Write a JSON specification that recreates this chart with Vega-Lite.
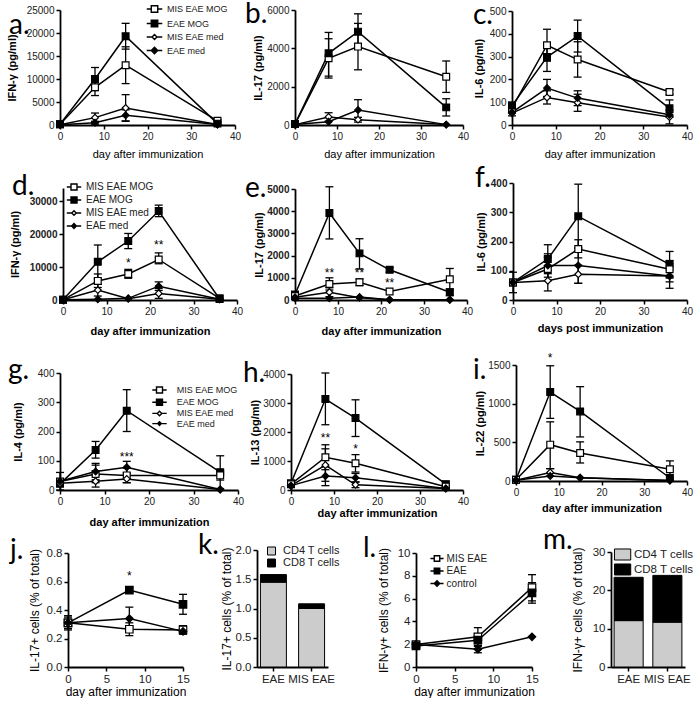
{
"$schema":"https://vega.github.io/schema/vega-lite/v6.json",
"padding":0,
"background":"white",
"config":{
 "view":{"stroke":null},
 "axis":{"domainColor":"black","domainWidth":1.8,"tickColor":"black","tickWidth":1.5,"tickSize":4,"labelColor":"#222","labelFont":"Liberation Sans","labelFontSize":10,"titleColor":"black","titleFont":"Liberation Sans","titleFontSize":11,"titleFontWeight":"bold","grid":false,"labelOverlap":false,"labelFlush":false,"labelPadding":2},
 "legend":{"labelFont":"Liberation Sans","labelColor":"#222","padding":0,"symbolStrokeColor":"black"},
 "title":{"font":"Lato","fontSize":28,"fontWeight":"normal","anchor":"start","frame":"group","offset":0,"baseline":"alphabetic","color":"black"}
},
"datasets":{
 "a":[
  {"day":0,"group":"MIS EAE MOG","mean":150,"lo":150,"hi":150},
  {"day":8,"group":"MIS EAE MOG","mean":8200,"lo":6400,"hi":10000},
  {"day":15,"group":"MIS EAE MOG","mean":13000,"lo":9000,"hi":17000},
  {"day":36,"group":"MIS EAE MOG","mean":900,"lo":600,"hi":1200},
  {"day":0,"group":"EAE MOG","mean":150,"lo":150,"hi":150},
  {"day":8,"group":"EAE MOG","mean":10000,"lo":7500,"hi":12500},
  {"day":15,"group":"EAE MOG","mean":19300,"lo":16500,"hi":22100},
  {"day":36,"group":"EAE MOG","mean":300,"lo":300,"hi":300},
  {"day":0,"group":"MIS EAE med","mean":50,"lo":50,"hi":50},
  {"day":8,"group":"MIS EAE med","mean":1600,"lo":600,"hi":2600},
  {"day":15,"group":"MIS EAE med","mean":3700,"lo":800,"hi":6600},
  {"day":36,"group":"MIS EAE med","mean":100,"lo":100,"hi":100},
  {"day":0,"group":"EAE med","mean":50,"lo":50,"hi":50},
  {"day":8,"group":"EAE med","mean":500,"lo":200,"hi":800},
  {"day":15,"group":"EAE med","mean":2100,"lo":900,"hi":3300},
  {"day":36,"group":"EAE med","mean":100,"lo":100,"hi":100}
 ],
 "b":[
  {"day":0,"group":"MIS EAE MOG","mean":50,"lo":50,"hi":50},
  {"day":8,"group":"MIS EAE MOG","mean":3480,"lo":2450,"hi":4500},
  {"day":15,"group":"MIS EAE MOG","mean":4090,"lo":2880,"hi":5300},
  {"day":36,"group":"MIS EAE MOG","mean":2520,"lo":1700,"hi":3340},
  {"day":0,"group":"EAE MOG","mean":50,"lo":50,"hi":50},
  {"day":8,"group":"EAE MOG","mean":3740,"lo":2550,"hi":4830},
  {"day":15,"group":"EAE MOG","mean":4870,"lo":3950,"hi":5800},
  {"day":36,"group":"EAE MOG","mean":920,"lo":470,"hi":1370},
  {"day":0,"group":"MIS EAE med","mean":20,"lo":20,"hi":20},
  {"day":8,"group":"MIS EAE med","mean":420,"lo":200,"hi":640},
  {"day":15,"group":"MIS EAE med","mean":280,"lo":150,"hi":400},
  {"day":36,"group":"MIS EAE med","mean":20,"lo":20,"hi":20},
  {"day":0,"group":"EAE med","mean":20,"lo":20,"hi":20},
  {"day":8,"group":"EAE med","mean":170,"lo":170,"hi":170},
  {"day":15,"group":"EAE med","mean":780,"lo":250,"hi":1320},
  {"day":36,"group":"EAE med","mean":20,"lo":20,"hi":20}
 ],
 "c":[
  {"day":0,"group":"MIS EAE MOG","mean":75,"lo":60,"hi":90},
  {"day":8,"group":"MIS EAE MOG","mean":350,"lo":280,"hi":420},
  {"day":15,"group":"MIS EAE MOG","mean":287,"lo":210,"hi":365},
  {"day":36,"group":"MIS EAE MOG","mean":145,"lo":135,"hi":155},
  {"day":0,"group":"EAE MOG","mean":85,"lo":70,"hi":100},
  {"day":8,"group":"EAE MOG","mean":298,"lo":235,"hi":360},
  {"day":15,"group":"EAE MOG","mean":390,"lo":320,"hi":460},
  {"day":36,"group":"EAE MOG","mean":73,"lo":40,"hi":110},
  {"day":0,"group":"MIS EAE med","mean":52,"lo":40,"hi":65},
  {"day":8,"group":"MIS EAE med","mean":121,"lo":92,"hi":150},
  {"day":15,"group":"MIS EAE med","mean":98,"lo":60,"hi":135},
  {"day":36,"group":"MIS EAE med","mean":35,"lo":5,"hi":65},
  {"day":0,"group":"EAE med","mean":55,"lo":55,"hi":55},
  {"day":8,"group":"EAE med","mean":162,"lo":125,"hi":200},
  {"day":15,"group":"EAE med","mean":118,"lo":85,"hi":150},
  {"day":36,"group":"EAE med","mean":45,"lo":35,"hi":55}
 ],
 "d":[
  {"day":0,"group":"MIS EAE MOG","mean":100,"lo":100,"hi":100},
  {"day":8,"group":"MIS EAE MOG","mean":5800,"lo":3800,"hi":7900},
  {"day":15,"group":"MIS EAE MOG","mean":7900,"lo":6600,"hi":9300},
  {"day":22,"group":"MIS EAE MOG","mean":12300,"lo":11000,"hi":14300},
  {"day":36,"group":"MIS EAE MOG","mean":500,"lo":500,"hi":500},
  {"day":0,"group":"EAE MOG","mean":100,"lo":100,"hi":100},
  {"day":8,"group":"EAE MOG","mean":11600,"lo":6500,"hi":16700},
  {"day":15,"group":"EAE MOG","mean":17900,"lo":15600,"hi":20200},
  {"day":22,"group":"EAE MOG","mean":27000,"lo":25300,"hi":28800},
  {"day":36,"group":"EAE MOG","mean":300,"lo":300,"hi":300},
  {"day":0,"group":"MIS EAE med","mean":50,"lo":50,"hi":50},
  {"day":8,"group":"MIS EAE med","mean":3000,"lo":1200,"hi":4800},
  {"day":15,"group":"MIS EAE med","mean":400,"lo":400,"hi":400},
  {"day":22,"group":"MIS EAE med","mean":2000,"lo":500,"hi":3500},
  {"day":36,"group":"MIS EAE med","mean":200,"lo":200,"hi":200},
  {"day":0,"group":"EAE med","mean":50,"lo":50,"hi":50},
  {"day":8,"group":"EAE med","mean":200,"lo":200,"hi":200},
  {"day":15,"group":"EAE med","mean":500,"lo":500,"hi":500},
  {"day":22,"group":"EAE med","mean":4200,"lo":2900,"hi":5500},
  {"day":36,"group":"EAE med","mean":200,"lo":200,"hi":200}
 ],
 "dS":[{"day":15,"val":11100,"star":"*"},{"day":22,"val":16700,"star":"**"}],
 "e":[
  {"day":0,"group":"EAE MOG","mean":250,"lo":250,"hi":250},
  {"day":8,"group":"EAE MOG","mean":3920,"lo":2750,"hi":5100},
  {"day":15,"group":"EAE MOG","mean":2100,"lo":1400,"hi":2760},
  {"day":22,"group":"EAE MOG","mean":1360,"lo":1250,"hi":1450},
  {"day":36,"group":"EAE MOG","mean":350,"lo":200,"hi":500},
  {"day":0,"group":"MIS EAE MOG","mean":180,"lo":180,"hi":180},
  {"day":8,"group":"MIS EAE MOG","mean":720,"lo":450,"hi":1000},
  {"day":15,"group":"MIS EAE MOG","mean":800,"lo":650,"hi":950},
  {"day":22,"group":"MIS EAE MOG","mean":380,"lo":380,"hi":380},
  {"day":36,"group":"MIS EAE MOG","mean":930,"lo":450,"hi":1420},
  {"day":0,"group":"MIS EAE med","mean":120,"lo":120,"hi":120},
  {"day":8,"group":"MIS EAE med","mean":350,"lo":150,"hi":550},
  {"day":15,"group":"MIS EAE med","mean":100,"lo":100,"hi":100},
  {"day":22,"group":"MIS EAE med","mean":10,"lo":10,"hi":10},
  {"day":36,"group":"MIS EAE med","mean":10,"lo":10,"hi":10},
  {"day":0,"group":"EAE med","mean":80,"lo":80,"hi":80},
  {"day":8,"group":"EAE med","mean":75,"lo":75,"hi":75},
  {"day":15,"group":"EAE med","mean":130,"lo":130,"hi":130},
  {"day":22,"group":"EAE med","mean":10,"lo":10,"hi":10},
  {"day":36,"group":"EAE med","mean":10,"lo":10,"hi":10}
 ],
 "eS":[{"day":8,"val":1200,"star":"**"},{"day":15,"val":1200,"star":"**"},{"day":22,"val":750,"star":"**"}],
 "f":[
  {"day":0,"group":"EAE MOG","mean":60,"lo":60,"hi":60},
  {"day":8,"group":"EAE MOG","mean":140,"lo":90,"hi":189},
  {"day":15,"group":"EAE MOG","mean":286,"lo":176,"hi":396},
  {"day":36,"group":"EAE MOG","mean":122,"lo":78,"hi":166},
  {"day":0,"group":"MIS EAE MOG","mean":60,"lo":60,"hi":60},
  {"day":8,"group":"MIS EAE MOG","mean":106,"lo":66,"hi":146},
  {"day":15,"group":"MIS EAE MOG","mean":174,"lo":144,"hi":206},
  {"day":36,"group":"MIS EAE MOG","mean":105,"lo":75,"hi":135},
  {"day":0,"group":"MIS EAE med","mean":60,"lo":60,"hi":60},
  {"day":8,"group":"MIS EAE med","mean":66,"lo":31,"hi":101},
  {"day":15,"group":"MIS EAE med","mean":88,"lo":57,"hi":119},
  {"day":36,"group":"MIS EAE med","mean":82,"lo":62,"hi":102},
  {"day":0,"group":"EAE med","mean":60,"lo":25,"hi":95},
  {"day":8,"group":"EAE med","mean":118,"lo":78,"hi":158},
  {"day":15,"group":"EAE med","mean":118,"lo":57,"hi":179},
  {"day":36,"group":"EAE med","mean":82,"lo":40,"hi":124}
 ],
 "g":[
  {"day":0,"group":"EAE MOG","mean":21,"lo":21,"hi":21},
  {"day":8,"group":"EAE MOG","mean":137,"lo":109,"hi":166},
  {"day":15,"group":"EAE MOG","mean":271,"lo":200,"hi":343},
  {"day":36,"group":"EAE MOG","mean":61,"lo":5,"hi":117},
  {"day":0,"group":"MIS EAE MOG","mean":29,"lo":29,"hi":29},
  {"day":8,"group":"MIS EAE MOG","mean":55,"lo":25,"hi":85},
  {"day":15,"group":"MIS EAE MOG","mean":50,"lo":25,"hi":75},
  {"day":36,"group":"MIS EAE MOG","mean":50,"lo":34,"hi":66},
  {"day":0,"group":"MIS EAE med","mean":23,"lo":23,"hi":23},
  {"day":8,"group":"MIS EAE med","mean":30,"lo":10,"hi":50},
  {"day":15,"group":"MIS EAE med","mean":38,"lo":25,"hi":50},
  {"day":36,"group":"MIS EAE med","mean":2,"lo":2,"hi":2},
  {"day":0,"group":"EAE med","mean":30,"lo":0,"hi":60},
  {"day":8,"group":"EAE med","mean":63,"lo":35,"hi":91},
  {"day":15,"group":"EAE med","mean":78,"lo":58,"hi":98},
  {"day":36,"group":"EAE med","mean":2,"lo":2,"hi":2}
 ],
 "gS":[{"day":15,"val":114,"star":"***"}],
 "h":[
  {"day":0,"group":"EAE MOG","mean":230,"lo":230,"hi":230},
  {"day":8,"group":"EAE MOG","mean":3135,"lo":2250,"hi":4035},
  {"day":15,"group":"EAE MOG","mean":2480,"lo":1845,"hi":3110},
  {"day":36,"group":"EAE MOG","mean":200,"lo":100,"hi":300},
  {"day":0,"group":"MIS EAE MOG","mean":200,"lo":200,"hi":200},
  {"day":8,"group":"MIS EAE MOG","mean":1130,"lo":700,"hi":1560},
  {"day":15,"group":"MIS EAE MOG","mean":920,"lo":620,"hi":1220},
  {"day":36,"group":"MIS EAE MOG","mean":115,"lo":115,"hi":115},
  {"day":0,"group":"MIS EAE med","mean":150,"lo":150,"hi":150},
  {"day":8,"group":"MIS EAE med","mean":860,"lo":300,"hi":1420},
  {"day":15,"group":"MIS EAE med","mean":180,"lo":80,"hi":280},
  {"day":36,"group":"MIS EAE med","mean":50,"lo":50,"hi":50},
  {"day":0,"group":"EAE med","mean":150,"lo":150,"hi":150},
  {"day":8,"group":"EAE med","mean":480,"lo":150,"hi":800},
  {"day":15,"group":"EAE med","mean":420,"lo":270,"hi":570},
  {"day":36,"group":"EAE med","mean":50,"lo":50,"hi":50}
 ],
 "hS":[{"day":8,"val":1790,"star":"**"},{"day":15,"val":1410,"star":"*"}],
 "i":[
  {"day":0,"group":"EAE MOG","mean":17,"lo":17,"hi":17},
  {"day":8,"group":"EAE MOG","mean":1150,"lo":810,"hi":1490},
  {"day":15,"group":"EAE MOG","mean":900,"lo":570,"hi":1220},
  {"day":36,"group":"EAE MOG","mean":39,"lo":39,"hi":39},
  {"day":0,"group":"MIS EAE MOG","mean":17,"lo":17,"hi":17},
  {"day":8,"group":"MIS EAE MOG","mean":470,"lo":160,"hi":765},
  {"day":15,"group":"MIS EAE MOG","mean":363,"lo":233,"hi":506},
  {"day":36,"group":"MIS EAE MOG","mean":151,"lo":40,"hi":260},
  {"day":0,"group":"MIS EAE med","mean":10,"lo":10,"hi":10},
  {"day":8,"group":"MIS EAE med","mean":110,"lo":60,"hi":160},
  {"day":15,"group":"MIS EAE med","mean":43,"lo":43,"hi":43},
  {"day":36,"group":"MIS EAE med","mean":5,"lo":5,"hi":5},
  {"day":0,"group":"EAE med","mean":10,"lo":10,"hi":10},
  {"day":8,"group":"EAE med","mean":65,"lo":65,"hi":65},
  {"day":15,"group":"EAE med","mean":43,"lo":43,"hi":43},
  {"day":36,"group":"EAE med","mean":5,"lo":5,"hi":5}
 ],
 "iS":[{"day":8,"val":1590,"star":"*"}],
 "j":[
  {"day":0,"group":"EAE","mean":0.31,"lo":0.27,"hi":0.35},
  {"day":8,"group":"EAE","mean":0.54,"lo":0.52,"hi":0.56},
  {"day":15,"group":"EAE","mean":0.44,"lo":0.37,"hi":0.51},
  {"day":0,"group":"MIS EAE","mean":0.31,"lo":0.26,"hi":0.36},
  {"day":8,"group":"MIS EAE","mean":0.265,"lo":0.22,"hi":0.31},
  {"day":15,"group":"MIS EAE","mean":0.26,"lo":0.23,"hi":0.29},
  {"day":0,"group":"control","mean":0.31,"lo":0.31,"hi":0.31},
  {"day":8,"group":"control","mean":0.34,"lo":0.28,"hi":0.42},
  {"day":15,"group":"control","mean":0.25,"lo":0.25,"hi":0.25}
 ],
 "jS":[{"day":8,"val":0.64,"star":"*"}],
 "k":[
  {"cond":"EAE","cell":"CD4 T cells","val":1.45},
  {"cond":"EAE","cell":"CD8 T cells","val":0.13},
  {"cond":"MIS EAE","cell":"CD4 T cells","val":1.0},
  {"cond":"MIS EAE","cell":"CD8 T cells","val":0.08}
 ],
 "l":[
  {"day":0,"group":"MIS EAE","mean":1.97,"lo":1.8,"hi":2.15},
  {"day":8,"group":"MIS EAE","mean":2.65,"lo":1.9,"hi":3.45},
  {"day":15,"group":"MIS EAE","mean":6.97,"lo":5.8,"hi":8.1},
  {"day":0,"group":"EAE","mean":1.85,"lo":1.6,"hi":2.1},
  {"day":8,"group":"EAE","mean":2.35,"lo":1.8,"hi":2.9},
  {"day":15,"group":"EAE","mean":6.5,"lo":5.6,"hi":7.4},
  {"day":0,"group":"control","mean":1.97,"lo":1.97,"hi":1.97},
  {"day":8,"group":"control","mean":1.56,"lo":1.25,"hi":1.87},
  {"day":15,"group":"control","mean":2.65,"lo":2.65,"hi":2.65}
 ],
 "m":[
  {"cond":"EAE","cell":"CD4 T cells","val":12.1},
  {"cond":"EAE","cell":"CD8 T cells","val":11.3},
  {"cond":"MIS EAE","cell":"CD4 T cells","val":11.7},
  {"cond":"MIS EAE","cell":"CD8 T cells","val":12.2}
 ]
},
"spacing":0,
"bounds":"flush",
"resolve":{"scale":{"fill":"independent","stroke":"independent","shape":"independent","size":"independent"}},
"hconcat":[
 {"width":60,"height":1,"data":{"values":[]},"mark":"point"},
 {"spacing":0,"bounds":"flush","resolve":{"scale":{"fill":"independent","stroke":"independent","shape":"independent","size":"independent"}},"vconcat":[
  {"width":1,"height":10,"data":{"values":[]},"mark":"point"},
  {"width":175,"height":115,"title":{"text":"a.","dx":-51,"dy":39.5},"data":{"name":"a"},
   "encoding":{"x":{"field":"day","type":"quantitative","scale":{"domain":[0,40],"nice":false},"axis":{"title":"day after immunization","values":[0,10,20,30,40],"tickCount":20,"titleFontWeight":"normal","titlePadding":7}}},
   "layer":[
    {"transform":[{"filter":"datum.hi > datum.lo"}],"mark":{"type":"rule","color":"black","strokeWidth":1.3},"encoding":{"y":{"field":"lo","type":"quantitative","scale":{"domain":[0,25000],"nice":false},"axis":{"title":"IFN-γ (pg/ml)","values":[0,5000,10000,15000,20000,25000],"tickCount":20,"format":"d","titlePadding":9}},"y2":{"field":"hi"},"detail":{"field":"group"}}},
    {"transform":[{"filter":"datum.hi > datum.lo"},{"fold":["lo","hi"],"as":["end","v"]}],"mark":{"type":"tick","orient":"horizontal","color":"black","size":8,"thickness":1.3,"opacity":1},"encoding":{"y":{"field":"v","type":"quantitative"}}},
    {"mark":{"type":"line","color":"black","strokeWidth":1.5},"encoding":{"y":{"field":"mean","type":"quantitative"},"detail":{"field":"group"}}},
    {"mark":{"type":"point","filled":true,"stroke":"black","strokeWidth":1.2,"opacity":1},"encoding":{"y":{"field":"mean","type":"quantitative"},
      "shape":{"field":"group","type":"nominal","scale":{"domain":["MIS EAE MOG","EAE MOG","MIS EAE med","EAE med"],"range":["square","square","diamond","diamond"]},"legend":null},
      "fill":{"field":"group","type":"nominal","scale":{"domain":["MIS EAE MOG","EAE MOG","MIS EAE med","EAE med"],"range":["white","black","white","black"]},"legend":null},
      "size":{"field":"group","type":"ordinal","scale":{"domain":["MIS EAE MOG","EAE MOG","MIS EAE med","EAE med"],"range":[46,46,30,42]},"legend":null}}},
    {"transform":[{"filter":"false"}],"mark":{"type":"point","filled":true,"strokeWidth":1.4,"opacity":1},"encoding":{
      "shape":{"field":"group","type":"nominal","scale":{"domain":["MIS EAE MOG","EAE MOG","MIS EAE med","EAE med"],"range":["M-2.4,0H-1M1,0H2.4M-1,-1H1V1H-1Z","M-2.4,0H-1M1,0H2.4M-1,-1H1V1H-1Z","M-2.4,0H-0.75M0.75,0H2.4M0,-0.75L0.75,0L0,0.75L-0.75,0Z","M-2.4,0H-1M1,0H2.4M0,-1L1,0L0,1L-1,0Z"]},"legend":{"orient":"none","legendX":90,"legendY":-5.5,"title":null,"symbolSize":42,"symbolStrokeWidth":1.4,"labelFontSize":9,"labelOffset":8,"rowPadding":1.5}},
      "fill":{"field":"group","type":"nominal","scale":{"domain":["MIS EAE MOG","EAE MOG","MIS EAE med","EAE med"],"range":["white","black","white","black"]},"legend":{"orient":"none","legendX":90,"legendY":-5.5,"title":null,"symbolSize":42,"symbolStrokeWidth":1.4,"labelFontSize":9,"labelOffset":8,"rowPadding":1.5}},
      "stroke":{"field":"group","type":"nominal","scale":{"domain":["MIS EAE MOG","EAE MOG","MIS EAE med","EAE med"],"range":["black","black","black","black"]},"legend":{"orient":"none","legendX":90,"legendY":-5.5,"title":null,"symbolSize":42,"symbolStrokeWidth":1.4,"labelFontSize":9,"labelOffset":8,"rowPadding":1.5}}}}
   ],
   "resolve":{"scale":{"shape":"independent","fill":"independent","size":"independent","stroke":"independent"}}}
 ]},
 {"spacing":0,"bounds":"flush","resolve":{"scale":{"fill":"independent","stroke":"independent","shape":"independent","size":"independent"}},"vconcat":[
  {"width":1,"height":373,"data":{"values":[]},"mark":"point"},
  {"width":178,"height":117,"title":{"text":"g.","dx":-52,"dy":21},"data":{"name":"g"},
   "encoding":{"x":{"field":"day","type":"quantitative","scale":{"domain":[0,40],"nice":false},"axis":{"title":"day after immunization","values":[0,10,20,30,40],"tickCount":20,"titlePadding":10}}},
   "layer":[
    {"transform":[{"filter":"datum.hi > datum.lo"}],"mark":{"type":"rule","color":"black","strokeWidth":1.3},"encoding":{"y":{"field":"lo","type":"quantitative","scale":{"domain":[0,400],"nice":false},"axis":{"title":"IL-4 (pg/ml)","values":[0,100,200,300,400],"tickCount":20,"format":"d","titlePadding":14}},"y2":{"field":"hi"},"detail":{"field":"group"}}},
    {"transform":[{"filter":"datum.hi > datum.lo"},{"fold":["lo","hi"],"as":["end","v"]}],"mark":{"type":"tick","orient":"horizontal","color":"black","size":8,"thickness":1.3,"opacity":1},"encoding":{"y":{"field":"v","type":"quantitative"}}},
    {"mark":{"type":"line","color":"black","strokeWidth":1.5},"encoding":{"y":{"field":"mean","type":"quantitative"},"detail":{"field":"group"}}},
    {"mark":{"type":"point","filled":true,"stroke":"black","strokeWidth":1.2,"opacity":1},"encoding":{"y":{"field":"mean","type":"quantitative"},
      "shape":{"field":"group","type":"nominal","scale":{"domain":["MIS EAE MOG","EAE MOG","MIS EAE med","EAE med"],"range":["square","square","diamond","diamond"]},"legend":null},
      "fill":{"field":"group","type":"nominal","scale":{"domain":["MIS EAE MOG","EAE MOG","MIS EAE med","EAE med"],"range":["white","black","white","black"]},"legend":null},
      "size":{"field":"group","type":"ordinal","scale":{"domain":["MIS EAE MOG","EAE MOG","MIS EAE med","EAE med"],"range":[46,46,30,26]},"legend":null}}},
    {"data":{"name":"gS"},"mark":{"type":"text","fontSize":12,"font":"Liberation Sans","color":"black","baseline":"middle"},"encoding":{"y":{"field":"val","type":"quantitative"},"text":{"field":"star"}}},
    {"transform":[{"filter":"false"}],"mark":{"type":"point","filled":true,"strokeWidth":1.4,"opacity":1},"encoding":{
      "shape":{"field":"group","type":"nominal","scale":{"domain":["MIS EAE MOG","EAE MOG","MIS EAE med","EAE med"],"range":["M-2.4,0H-1M1,0H2.4M-1,-1H1V1H-1Z","M-2.4,0H-1M1,0H2.4M-1,-1H1V1H-1Z","M-2.4,0H-0.75M0.75,0H2.4M0,-0.75L0.75,0L0,0.75L-0.75,0Z","M-2.4,0H-0.6M0.6,0H2.4M0,-0.6L0.6,0L0,0.6L-0.6,0Z"]},"legend":{"orient":"none","legendX":95,"legendY":12.5,"title":null,"symbolSize":36,"symbolStrokeWidth":1.4,"labelFontSize":9,"labelOffset":12.8,"rowPadding":-0.8}},
      "fill":{"field":"group","type":"nominal","scale":{"domain":["MIS EAE MOG","EAE MOG","MIS EAE med","EAE med"],"range":["white","black","white","black"]},"legend":{"orient":"none","legendX":95,"legendY":12.5,"title":null,"symbolSize":36,"symbolStrokeWidth":1.4,"labelFontSize":9,"labelOffset":12.8,"rowPadding":-0.8}},
      "stroke":{"field":"group","type":"nominal","scale":{"domain":["MIS EAE MOG","EAE MOG","MIS EAE med","EAE med"],"range":["black","black","black","black"]},"legend":{"orient":"none","legendX":95,"legendY":12.5,"title":null,"symbolSize":36,"symbolStrokeWidth":1.4,"labelFontSize":9,"labelOffset":12.8,"rowPadding":-0.8}}}}
   ],
   "resolve":{"scale":{"shape":"independent","fill":"independent","size":"independent","stroke":"independent"}}}
 ]},
 {"width":3,"height":1,"data":{"values":[]},"mark":"point"},
 {"spacing":0,"bounds":"flush","resolve":{"scale":{"fill":"independent","stroke":"independent","shape":"independent","size":"independent"}},"vconcat":[
  {"width":1,"height":188,"data":{"values":[]},"mark":"point"},
  {"width":174,"height":112,"title":{"text":"d.","dx":-51,"dy":23},"data":{"name":"d"},
   "encoding":{"x":{"field":"day","type":"quantitative","scale":{"domain":[0,40],"nice":false},"axis":{"title":"day after immunization","values":[0,10,20,30,40],"tickCount":20,"titlePadding":9}}},
   "layer":[
    {"transform":[{"filter":"datum.hi > datum.lo"}],"mark":{"type":"rule","color":"black","strokeWidth":1.3},"encoding":{"y":{"field":"lo","type":"quantitative","scale":{"domain":[0,34000],"nice":false},"axis":{"title":"IFN-γ (pg/ml)","values":[0,10000,20000,30000],"tickCount":20,"format":"d","labelFontWeight":"bold","titlePadding":9}},"y2":{"field":"hi"},"detail":{"field":"group"}}},
    {"transform":[{"filter":"datum.hi > datum.lo"},{"fold":["lo","hi"],"as":["end","v"]}],"mark":{"type":"tick","orient":"horizontal","color":"black","size":8,"thickness":1.3,"opacity":1},"encoding":{"y":{"field":"v","type":"quantitative"}}},
    {"mark":{"type":"line","color":"black","strokeWidth":1.5},"encoding":{"y":{"field":"mean","type":"quantitative"},"detail":{"field":"group"}}},
    {"mark":{"type":"point","filled":true,"stroke":"black","strokeWidth":1.2,"opacity":1},"encoding":{"y":{"field":"mean","type":"quantitative"},
      "shape":{"field":"group","type":"nominal","scale":{"domain":["MIS EAE MOG","EAE MOG","MIS EAE med","EAE med"],"range":["square","square","diamond","diamond"]},"legend":null},
      "fill":{"field":"group","type":"nominal","scale":{"domain":["MIS EAE MOG","EAE MOG","MIS EAE med","EAE med"],"range":["white","black","white","black"]},"legend":null},
      "size":{"field":"group","type":"ordinal","scale":{"domain":["MIS EAE MOG","EAE MOG","MIS EAE med","EAE med"],"range":[46,46,26,34]},"legend":null}}},
    {"data":{"name":"dS"},"mark":{"type":"text","fontSize":12,"font":"Liberation Sans","color":"black","baseline":"middle"},"encoding":{"y":{"field":"val","type":"quantitative"},"text":{"field":"star"}}},
    {"transform":[{"filter":"false"}],"mark":{"type":"point","filled":true,"strokeWidth":1.4,"opacity":1},"encoding":{
      "shape":{"field":"group","type":"nominal","scale":{"domain":["MIS EAE MOG","EAE MOG","MIS EAE med","EAE med"],"range":["M-2.4,0H-1M1,0H2.4M-1,-1H1V1H-1Z","M-2.4,0H-1M1,0H2.4M-1,-1H1V1H-1Z","M-2.4,0H-0.75M0.75,0H2.4M0,-0.75L0.75,0L0,0.75L-0.75,0Z","M-2.4,0H-0.8M0.8,0H2.4M0,-0.8L0.8,0L0,0.8L-0.8,0Z"]},"legend":{"orient":"none","legendX":6,"legendY":-6,"title":null,"symbolSize":36,"symbolStrokeWidth":1.4,"labelFontSize":10,"labelOffset":7,"rowPadding":1}},
      "fill":{"field":"group","type":"nominal","scale":{"domain":["MIS EAE MOG","EAE MOG","MIS EAE med","EAE med"],"range":["white","black","white","black"]},"legend":{"orient":"none","legendX":6,"legendY":-6,"title":null,"symbolSize":36,"symbolStrokeWidth":1.4,"labelFontSize":10,"labelOffset":7,"rowPadding":1}},
      "stroke":{"field":"group","type":"nominal","scale":{"domain":["MIS EAE MOG","EAE MOG","MIS EAE med","EAE med"],"range":["black","black","black","black"]},"legend":{"orient":"none","legendX":6,"legendY":-6,"title":null,"symbolSize":36,"symbolStrokeWidth":1.4,"labelFontSize":10,"labelOffset":7,"rowPadding":1}}}}
   ],
   "resolve":{"scale":{"shape":"independent","fill":"independent","size":"independent","stroke":"independent"}}}
 ]},
 {"width":5,"height":1,"data":{"values":[]},"mark":"point"},
 {"spacing":0,"bounds":"flush","resolve":{"scale":{"fill":"independent","stroke":"independent","shape":"independent","size":"independent"}},"vconcat":[
  {"width":1,"height":553,"data":{"values":[]},"mark":"point"},
  {"width":115,"height":114,"title":{"text":"j.","dx":-58,"dy":21.75},"data":{"name":"j"},
   "encoding":{"x":{"field":"day","type":"quantitative","scale":{"domain":[0,15],"nice":false},"axis":{"title":"day after immunization","values":[0,5,10,15],"tickCount":20,"labelFontSize":11.5,"titleFontWeight":"normal","titleFontSize":12,"titlePadding":1.5}}},
   "layer":[
    {"transform":[{"filter":"datum.hi > datum.lo"}],"mark":{"type":"rule","color":"black","strokeWidth":1.3},"encoding":{"y":{"field":"lo","type":"quantitative","scale":{"domain":[0,0.8],"nice":false},"axis":{"title":"IL-17+ cells (% of total)","values":[0,0.2,0.4,0.6,0.8],"tickCount":20,"format":".1f","labelFontSize":11.5,"titleFontWeight":"normal","titleFontSize":12,"titlePadding":5}},"y2":{"field":"hi"},"detail":{"field":"group"}}},
    {"transform":[{"filter":"datum.hi > datum.lo"},{"fold":["lo","hi"],"as":["end","v"]}],"mark":{"type":"tick","orient":"horizontal","color":"black","size":8,"thickness":1.3,"opacity":1},"encoding":{"y":{"field":"v","type":"quantitative"}}},
    {"mark":{"type":"line","color":"black","strokeWidth":1.5},"encoding":{"y":{"field":"mean","type":"quantitative"},"detail":{"field":"group"}}},
    {"mark":{"type":"point","filled":true,"stroke":"black","strokeWidth":1.2,"opacity":1},"encoding":{"y":{"field":"mean","type":"quantitative"},
      "shape":{"field":"group","type":"nominal","scale":{"domain":["MIS EAE","EAE","control"],"range":["square","square","diamond"]},"legend":null},
      "fill":{"field":"group","type":"nominal","scale":{"domain":["MIS EAE","EAE","control"],"range":["white","black","black"]},"legend":null},
      "size":{"field":"group","type":"ordinal","scale":{"domain":["MIS EAE","EAE","control"],"range":[56,56,42]},"legend":null}}},
    {"data":{"name":"jS"},"mark":{"type":"text","fontSize":12,"font":"Liberation Sans","color":"black","baseline":"middle"},"encoding":{"y":{"field":"val","type":"quantitative"},"text":{"field":"star"}}}
   ]}
 ]},
 {"width":189,"height":1,"data":{"values":[]},"mark":"point"},
 {"spacing":0,"bounds":"flush","resolve":{"scale":{"fill":"independent","stroke":"independent","shape":"independent","size":"independent"}},"vconcat":[
  {"width":1,"height":550,"data":{"values":[]},"mark":"point"},
  {"width":71,"height":117,"title":{"text":"k.","dx":-59,"dy":19.5},"data":{"name":"k"},
   "mark":{"type":"bar","strokeWidth":1},
   "encoding":{
    "x":{"field":"cond","type":"nominal","scale":{"domain":["EAE","MIS EAE"],"paddingInner":0.32,"paddingOuter":0.09},"axis":{"title":null,"labelAngle":0,"labelFontSize":11.5}},
    "y":{"field":"val","type":"quantitative","stack":"zero","scale":{"domain":[0,2],"nice":false},"axis":{"title":"IL-17+ cells (% of total)","values":[0,0.5,1,1.5,2],"tickCount":20,"format":".1f","labelFontSize":11.5,"titleFontWeight":"normal","titleFontSize":12,"titlePadding":2}},
    "order":{"field":"cell","sort":"ascending"},
    "fill":{"field":"cell","type":"nominal","scale":{"domain":["CD4 T cells","CD8 T cells"],"range":["#cccccc","black"]},"legend":{"orient":"none","legendX":9,"legendY":-4.5,"title":null,"symbolType":"square","symbolSize":64,"symbolStrokeWidth":1,"labelFontSize":11,"labelOffset":6,"rowPadding":-1}},
    "stroke":{"field":"cell","type":"nominal","scale":{"domain":["CD4 T cells","CD8 T cells"],"range":["black","black"]},"legend":{"orient":"none","legendX":9,"legendY":-4.5,"title":null,"symbolType":"square","symbolSize":64,"symbolStrokeWidth":1,"labelFontSize":11,"labelOffset":6,"rowPadding":-1}}
   }}
 ]},
 {"width":34,"height":1,"data":{"values":[]},"mark":"point"},
 {"spacing":0,"bounds":"flush","resolve":{"scale":{"fill":"independent","stroke":"independent","shape":"independent","size":"independent"}},"vconcat":[
  {"width":1,"height":374,"data":{"values":[]},"mark":"point"},
  {"width":172,"height":116,"title":{"text":"h.","dx":-48,"dy":23},"data":{"name":"h"},
   "encoding":{"x":{"field":"day","type":"quantitative","scale":{"domain":[0,40],"nice":false},"axis":{"title":"day after immunization","values":[0,10,20,30,40],"tickCount":20,"titlePadding":1.5}}},
   "layer":[
    {"transform":[{"filter":"datum.hi > datum.lo"}],"mark":{"type":"rule","color":"black","strokeWidth":1.3},"encoding":{"y":{"field":"lo","type":"quantitative","scale":{"domain":[0,4000],"nice":false},"axis":{"title":"IL-13 (pg/ml)","values":[0,1000,2000,3000,4000],"tickCount":20,"format":"d","titlePadding":2}},"y2":{"field":"hi"},"detail":{"field":"group"}}},
    {"transform":[{"filter":"datum.hi > datum.lo"},{"fold":["lo","hi"],"as":["end","v"]}],"mark":{"type":"tick","orient":"horizontal","color":"black","size":8,"thickness":1.3,"opacity":1},"encoding":{"y":{"field":"v","type":"quantitative"}}},
    {"mark":{"type":"line","color":"black","strokeWidth":1.5},"encoding":{"y":{"field":"mean","type":"quantitative"},"detail":{"field":"group"}}},
    {"mark":{"type":"point","filled":true,"stroke":"black","strokeWidth":1.2,"opacity":1},"encoding":{"y":{"field":"mean","type":"quantitative"},
      "shape":{"field":"group","type":"nominal","scale":{"domain":["MIS EAE MOG","EAE MOG","MIS EAE med","EAE med"],"range":["square","square","diamond","diamond"]},"legend":null},
      "fill":{"field":"group","type":"nominal","scale":{"domain":["MIS EAE MOG","EAE MOG","MIS EAE med","EAE med"],"range":["white","black","white","black"]},"legend":null},
      "size":{"field":"group","type":"ordinal","scale":{"domain":["MIS EAE MOG","EAE MOG","MIS EAE med","EAE med"],"range":[46,46,30,32]},"legend":null}}},
    {"data":{"name":"hS"},"mark":{"type":"text","fontSize":12,"font":"Liberation Sans","color":"black","baseline":"middle"},"encoding":{"y":{"field":"val","type":"quantitative"},"text":{"field":"star"}}}
   ]}
 ]},
 {"width":4,"height":1,"data":{"values":[]},"mark":"point"},
 {"spacing":0,"bounds":"flush","resolve":{"scale":{"fill":"independent","stroke":"independent","shape":"independent","size":"independent"}},"vconcat":[
  {"width":1,"height":10,"data":{"values":[]},"mark":"point"},
  {"width":168,"height":115,"title":{"text":"b.","dx":-50,"dy":28},"data":{"name":"b"},
   "encoding":{"x":{"field":"day","type":"quantitative","scale":{"domain":[0,40],"nice":false},"axis":{"title":"day after immunization","values":[0,10,20,30,40],"tickCount":20,"titleFontWeight":"normal","titlePadding":7}}},
   "layer":[
    {"transform":[{"filter":"datum.hi > datum.lo"}],"mark":{"type":"rule","color":"black","strokeWidth":1.3},"encoding":{"y":{"field":"lo","type":"quantitative","scale":{"domain":[0,6000],"nice":false},"axis":{"title":"IL-17 (pg/ml)","values":[0,2000,4000,6000],"tickCount":20,"format":"d","titlePadding":3}},"y2":{"field":"hi"},"detail":{"field":"group"}}},
    {"transform":[{"filter":"datum.hi > datum.lo"},{"fold":["lo","hi"],"as":["end","v"]}],"mark":{"type":"tick","orient":"horizontal","color":"black","size":8,"thickness":1.3,"opacity":1},"encoding":{"y":{"field":"v","type":"quantitative"}}},
    {"mark":{"type":"line","color":"black","strokeWidth":1.5},"encoding":{"y":{"field":"mean","type":"quantitative"},"detail":{"field":"group"}}},
    {"mark":{"type":"point","filled":true,"stroke":"black","strokeWidth":1.2,"opacity":1},"encoding":{"y":{"field":"mean","type":"quantitative"},
      "shape":{"field":"group","type":"nominal","scale":{"domain":["MIS EAE MOG","EAE MOG","MIS EAE med","EAE med"],"range":["square","square","diamond","diamond"]},"legend":null},
      "fill":{"field":"group","type":"nominal","scale":{"domain":["MIS EAE MOG","EAE MOG","MIS EAE med","EAE med"],"range":["white","black","white","black"]},"legend":null},
      "size":{"field":"group","type":"ordinal","scale":{"domain":["MIS EAE MOG","EAE MOG","MIS EAE med","EAE med"],"range":[46,46,30,42]},"legend":null}}}
   ]}
 ]},
 {"spacing":0,"bounds":"flush","resolve":{"scale":{"fill":"independent","stroke":"independent","shape":"independent","size":"independent"}},"vconcat":[
  {"width":1,"height":189,"data":{"values":[]},"mark":"point"},
  {"width":172,"height":111,"title":{"text":"e.","dx":-50,"dy":23},"data":{"name":"e"},
   "encoding":{"x":{"field":"day","type":"quantitative","scale":{"domain":[0,40],"nice":false},"axis":{"title":"day after immunization","values":[0,10,20,30,40],"tickCount":20,"titlePadding":9}}},
   "layer":[
    {"transform":[{"filter":"datum.hi > datum.lo"}],"mark":{"type":"rule","color":"black","strokeWidth":1.3},"encoding":{"y":{"field":"lo","type":"quantitative","scale":{"domain":[0,5000],"nice":false},"axis":{"title":"IL-17 (pg/ml)","values":[0,1000,2000,3000,4000,5000],"tickCount":20,"format":"d","labelFontWeight":"bold","titlePadding":2}},"y2":{"field":"hi"},"detail":{"field":"group"}}},
    {"transform":[{"filter":"datum.hi > datum.lo"},{"fold":["lo","hi"],"as":["end","v"]}],"mark":{"type":"tick","orient":"horizontal","color":"black","size":8,"thickness":1.3,"opacity":1},"encoding":{"y":{"field":"v","type":"quantitative"}}},
    {"mark":{"type":"line","color":"black","strokeWidth":1.5},"encoding":{"y":{"field":"mean","type":"quantitative"},"detail":{"field":"group"}}},
    {"mark":{"type":"point","filled":true,"stroke":"black","strokeWidth":1.2,"opacity":1},"encoding":{"y":{"field":"mean","type":"quantitative"},
      "shape":{"field":"group","type":"nominal","scale":{"domain":["MIS EAE MOG","EAE MOG","MIS EAE med","EAE med"],"range":["square","square","diamond","diamond"]},"legend":null},
      "fill":{"field":"group","type":"nominal","scale":{"domain":["MIS EAE MOG","EAE MOG","MIS EAE med","EAE med"],"range":["white","black","white","black"]},"legend":null},
      "size":{"field":"group","type":"ordinal","scale":{"domain":["MIS EAE MOG","EAE MOG","MIS EAE med","EAE med"],"range":[46,46,26,30]},"legend":null}}},
    {"data":{"name":"eS"},"mark":{"type":"text","fontSize":12,"font":"Liberation Sans","color":"black","baseline":"middle"},"encoding":{"y":{"field":"val","type":"quantitative"},"text":{"field":"star"}}}
   ]}
 ]},
 {"width":121,"height":1,"data":{"values":[]},"mark":"point"},
 {"spacing":0,"bounds":"flush","resolve":{"scale":{"fill":"independent","stroke":"independent","shape":"independent","size":"independent"}},"vconcat":[
  {"width":1,"height":553,"data":{"values":[]},"mark":"point"},
  {"width":116,"height":114,"title":{"text":"l.","dx":-53,"dy":19.5},"data":{"name":"l"},
   "encoding":{"x":{"field":"day","type":"quantitative","scale":{"domain":[0,15],"nice":false},"axis":{"title":"day after immunization","values":[0,5,10,15],"tickCount":20,"labelFontSize":11.5,"titleFontWeight":"normal","titleFontSize":12,"titlePadding":2}}},
   "layer":[
    {"transform":[{"filter":"datum.hi > datum.lo"}],"mark":{"type":"rule","color":"black","strokeWidth":1.3},"encoding":{"y":{"field":"lo","type":"quantitative","scale":{"domain":[0,10],"nice":false},"axis":{"title":"IFN-γ+ cells (% of total)","values":[0,2,4,6,8,10],"tickCount":20,"format":"d","labelFontSize":11.5,"titleFontWeight":"normal","titleFontSize":12,"titlePadding":7}},"y2":{"field":"hi"},"detail":{"field":"group"}}},
    {"transform":[{"filter":"datum.hi > datum.lo"},{"fold":["lo","hi"],"as":["end","v"]}],"mark":{"type":"tick","orient":"horizontal","color":"black","size":8,"thickness":1.3,"opacity":1},"encoding":{"y":{"field":"v","type":"quantitative"}}},
    {"mark":{"type":"line","color":"black","strokeWidth":1.5},"encoding":{"y":{"field":"mean","type":"quantitative"},"detail":{"field":"group"}}},
    {"mark":{"type":"point","filled":true,"stroke":"black","strokeWidth":1.2,"opacity":1},"encoding":{"y":{"field":"mean","type":"quantitative"},
      "shape":{"field":"group","type":"nominal","scale":{"domain":["MIS EAE","EAE","control"],"range":["square","square","diamond"]},"legend":null},
      "fill":{"field":"group","type":"nominal","scale":{"domain":["MIS EAE","EAE","control"],"range":["white","black","black"]},"legend":null},
      "size":{"field":"group","type":"ordinal","scale":{"domain":["MIS EAE","EAE","control"],"range":[56,56,42]},"legend":null}}},
    {"transform":[{"filter":"false"}],"mark":{"type":"point","filled":true,"strokeWidth":1.4,"opacity":1},"encoding":{
      "shape":{"field":"group","type":"nominal","scale":{"domain":["MIS EAE","EAE","control"],"range":["M-2.4,0H-1M1,0H2.4M-1,-1H1V1H-1Z","M-2.4,0H-1M1,0H2.4M-1,-1H1V1H-1Z","M-2.4,0H-1M1,0H2.4M0,-1L1,0L0,1L-1,0Z"]},"legend":{"orient":"none","legendX":16,"legendY":0.5,"title":null,"symbolSize":30,"symbolStrokeWidth":1.4,"labelFontSize":10,"labelOffset":4.6,"rowPadding":0.5}},
      "fill":{"field":"group","type":"nominal","scale":{"domain":["MIS EAE","EAE","control"],"range":["white","black","black"]},"legend":{"orient":"none","legendX":16,"legendY":0.5,"title":null,"symbolSize":30,"symbolStrokeWidth":1.4,"labelFontSize":10,"labelOffset":4.6,"rowPadding":0.5}},
      "stroke":{"field":"group","type":"nominal","scale":{"domain":["MIS EAE","EAE","control"],"range":["black","black","black"]},"legend":{"orient":"none","legendX":16,"legendY":0.5,"title":null,"symbolSize":30,"symbolStrokeWidth":1.4,"labelFontSize":10,"labelOffset":4.6,"rowPadding":0.5}}}}
   ],
   "resolve":{"scale":{"shape":"independent","fill":"independent","size":"independent","stroke":"independent"}}}
 ]},
 {"width":96,"height":1,"data":{"values":[]},"mark":"point"},
 {"spacing":0,"bounds":"flush","resolve":{"scale":{"fill":"independent","stroke":"independent","shape":"independent","size":"independent"}},"vconcat":[
  {"width":1,"height":11,"data":{"values":[]},"mark":"point"},
  {"width":175,"height":114,"title":{"text":"c.","dx":-39,"dy":28},"data":{"name":"c"},
   "encoding":{"x":{"field":"day","type":"quantitative","scale":{"domain":[0,40],"nice":false},"axis":{"title":"day after immunization","values":[0,10,20,30,40],"tickCount":20,"titleFontWeight":"normal","titlePadding":7}}},
   "layer":[
    {"transform":[{"filter":"datum.hi > datum.lo"}],"mark":{"type":"rule","color":"black","strokeWidth":1.3},"encoding":{"y":{"field":"lo","type":"quantitative","scale":{"domain":[0,500],"nice":false},"axis":{"title":"IL-6 (pg/ml)","values":[0,100,200,300,400,500],"tickCount":20,"format":"d","titlePadding":5}},"y2":{"field":"hi"},"detail":{"field":"group"}}},
    {"transform":[{"filter":"datum.hi > datum.lo"},{"fold":["lo","hi"],"as":["end","v"]}],"mark":{"type":"tick","orient":"horizontal","color":"black","size":8,"thickness":1.3,"opacity":1},"encoding":{"y":{"field":"v","type":"quantitative"}}},
    {"mark":{"type":"line","color":"black","strokeWidth":1.5},"encoding":{"y":{"field":"mean","type":"quantitative"},"detail":{"field":"group"}}},
    {"mark":{"type":"point","filled":true,"stroke":"black","strokeWidth":1.2,"opacity":1},"encoding":{"y":{"field":"mean","type":"quantitative"},
      "shape":{"field":"group","type":"nominal","scale":{"domain":["MIS EAE MOG","EAE MOG","MIS EAE med","EAE med"],"range":["square","square","diamond","diamond"]},"legend":null},
      "fill":{"field":"group","type":"nominal","scale":{"domain":["MIS EAE MOG","EAE MOG","MIS EAE med","EAE med"],"range":["white","black","white","black"]},"legend":null},
      "size":{"field":"group","type":"ordinal","scale":{"domain":["MIS EAE MOG","EAE MOG","MIS EAE med","EAE med"],"range":[46,46,30,42]},"legend":null}}}
   ]}
 ]},
 {"width":1,"height":1,"data":{"values":[]},"mark":"point"},
 {"spacing":0,"bounds":"flush","resolve":{"scale":{"fill":"independent","stroke":"independent","shape":"independent","size":"independent"}},"vconcat":[
  {"width":1,"height":183,"data":{"values":[]},"mark":"point"},
  {"width":174,"height":117,"title":{"text":"f.","dx":-38,"dy":19},"data":{"name":"f"},
   "encoding":{"x":{"field":"day","type":"quantitative","scale":{"domain":[0,40],"nice":false},"axis":{"title":"days post immunization","values":[0,10,20,30,40],"tickCount":20,"titlePadding":6.5}}},
   "layer":[
    {"transform":[{"filter":"datum.hi > datum.lo"}],"mark":{"type":"rule","color":"black","strokeWidth":1.3},"encoding":{"y":{"field":"lo","type":"quantitative","scale":{"domain":[0,400],"nice":false},"axis":{"title":"IL-6 (pg/ml)","values":[0,100,200,300,400],"tickCount":20,"format":"d","labelFontWeight":"bold","titlePadding":4}},"y2":{"field":"hi"},"detail":{"field":"group"}}},
    {"transform":[{"filter":"datum.hi > datum.lo"},{"fold":["lo","hi"],"as":["end","v"]}],"mark":{"type":"tick","orient":"horizontal","color":"black","size":8,"thickness":1.3,"opacity":1},"encoding":{"y":{"field":"v","type":"quantitative"}}},
    {"mark":{"type":"line","color":"black","strokeWidth":1.5},"encoding":{"y":{"field":"mean","type":"quantitative"},"detail":{"field":"group"}}},
    {"mark":{"type":"point","filled":true,"stroke":"black","strokeWidth":1.2,"opacity":1},"encoding":{"y":{"field":"mean","type":"quantitative"},
      "shape":{"field":"group","type":"nominal","scale":{"domain":["MIS EAE MOG","EAE MOG","MIS EAE med","EAE med"],"range":["square","square","diamond","diamond"]},"legend":null},
      "fill":{"field":"group","type":"nominal","scale":{"domain":["MIS EAE MOG","EAE MOG","MIS EAE med","EAE med"],"range":["white","black","white","black"]},"legend":null},
      "size":{"field":"group","type":"ordinal","scale":{"domain":["MIS EAE MOG","EAE MOG","MIS EAE med","EAE med"],"range":[46,46,34,42]},"legend":null}}}
   ]}
 ]},
 {"width":3,"height":1,"data":{"values":[]},"mark":"point"},
 {"spacing":0,"bounds":"flush","resolve":{"scale":{"fill":"independent","stroke":"independent","shape":"independent","size":"independent"}},"vconcat":[
  {"width":1,"height":365,"data":{"values":[]},"mark":"point"},
  {"width":171,"height":116,"title":{"text":"i.","dx":-43,"dy":37},"data":{"name":"i"},
   "encoding":{"x":{"field":"day","type":"quantitative","scale":{"domain":[0,40],"nice":false},"axis":{"title":"day after immunization","values":[0,10,20,30,40],"tickCount":20,"titlePadding":5.5}}},
   "layer":[
    {"transform":[{"filter":"datum.hi > datum.lo"}],"mark":{"type":"rule","color":"black","strokeWidth":1.3},"encoding":{"y":{"field":"lo","type":"quantitative","scale":{"domain":[0,1500],"nice":false},"axis":{"title":"IL-22 (pg/ml)","values":[0,500,1000,1500],"tickCount":20,"format":"d","titlePadding":2}},"y2":{"field":"hi"},"detail":{"field":"group"}}},
    {"transform":[{"filter":"datum.hi > datum.lo"},{"fold":["lo","hi"],"as":["end","v"]}],"mark":{"type":"tick","orient":"horizontal","color":"black","size":8,"thickness":1.3,"opacity":1},"encoding":{"y":{"field":"v","type":"quantitative"}}},
    {"mark":{"type":"line","color":"black","strokeWidth":1.5},"encoding":{"y":{"field":"mean","type":"quantitative"},"detail":{"field":"group"}}},
    {"mark":{"type":"point","filled":true,"stroke":"black","strokeWidth":1.2,"opacity":1},"encoding":{"y":{"field":"mean","type":"quantitative"},
      "shape":{"field":"group","type":"nominal","scale":{"domain":["MIS EAE MOG","EAE MOG","MIS EAE med","EAE med"],"range":["square","square","diamond","diamond"]},"legend":null},
      "fill":{"field":"group","type":"nominal","scale":{"domain":["MIS EAE MOG","EAE MOG","MIS EAE med","EAE med"],"range":["white","black","white","black"]},"legend":null},
      "size":{"field":"group","type":"ordinal","scale":{"domain":["MIS EAE MOG","EAE MOG","MIS EAE med","EAE med"],"range":[46,46,30,30]},"legend":null}}},
    {"data":{"name":"iS"},"mark":{"type":"text","fontSize":12,"font":"Liberation Sans","color":"black","baseline":"middle"},"encoding":{"y":{"field":"val","type":"quantitative"},"text":{"field":"star"}}}
   ]}
 ]},
 {"width":95,"height":1,"data":{"values":[]},"mark":"point"},
 {"spacing":0,"bounds":"flush","resolve":{"scale":{"fill":"independent","stroke":"independent","shape":"independent","size":"independent"}},"vconcat":[
  {"width":1,"height":552,"data":{"values":[]},"mark":"point"},
  {"width":74,"height":115,"title":{"text":"m.","dx":-68,"dy":12.75},"data":{"name":"m"},
   "mark":{"type":"bar","strokeWidth":1},
   "encoding":{
    "x":{"field":"cond","type":"nominal","scale":{"domain":["EAE","MIS EAE"],"paddingInner":0.25,"paddingOuter":0.08},"axis":{"title":null,"labelAngle":0,"labelFontSize":11.5}},
    "y":{"field":"val","type":"quantitative","stack":"zero","scale":{"domain":[0,30],"nice":false},"axis":{"title":"IFN-γ+ cells (% of total)","values":[0,10,20,30],"tickCount":20,"format":"d","labelFontSize":11.5,"titleFontWeight":"normal","titleFontSize":12,"titlePadding":8}},
    "order":{"field":"cell","sort":"ascending"},
    "fill":{"field":"cell","type":"nominal","scale":{"domain":["CD4 T cells","CD8 T cells"],"range":["#cccccc","black"]},"legend":{"orient":"none","legendX":4.6,"legendY":-4.5,"title":null,"symbolType":"M-1.25,-0.85H1.25V0.85H-1.25Z","symbolSize":169,"symbolStrokeWidth":1,"labelFontSize":11.5,"labelOffset":4.4,"rowPadding":-2}},
    "stroke":{"field":"cell","type":"nominal","scale":{"domain":["CD4 T cells","CD8 T cells"],"range":["black","black"]},"legend":{"orient":"none","legendX":4.6,"legendY":-4.5,"title":null,"symbolType":"M-1.25,-0.85H1.25V0.85H-1.25Z","symbolSize":169,"symbolStrokeWidth":1,"labelFontSize":11.5,"labelOffset":4.4,"rowPadding":-2}}
   }}
 ]}
]
}
